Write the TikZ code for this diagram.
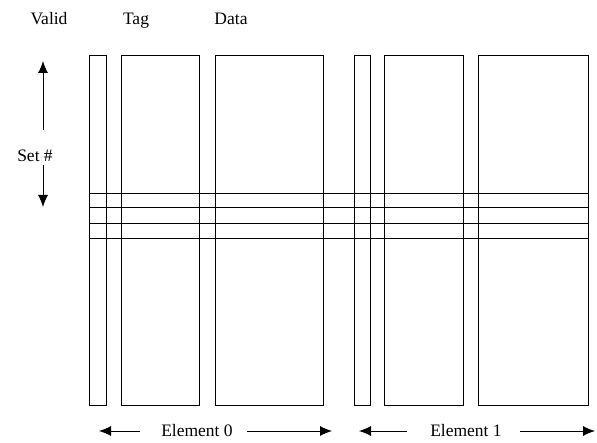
\documentclass[tikz,border=0pt]{standalone}
\usepackage{fontspec}
\setmainfont{Liberation Serif}
\usetikzlibrary{arrows.meta}
\begin{document}
\begin{tikzpicture}[x=1pt,y=-1pt,
  col/.style={draw, line width=0.9pt, inner sep=0pt, outer sep=0pt, anchor=north west, minimum height=350pt},
  row/.style={line width=0.9pt},
  lbl/.style={font=\fontsize{17.5}{19}\selectfont, inner sep=0pt, anchor=base},
  arr/.style={line width=0.9pt, -{Latex[length=12pt,width=10pt]}}]
\useasboundingbox (0,0) rectangle (597,443);
% columns
\node[col, minimum width=17pt] (v0) at (89,55) {};
\node[col, minimum width=78pt] (t0) at (121,55) {};
\node[col, minimum width=108pt] (d0) at (215,55) {};
\node[col, minimum width=16pt] (v1) at (354,55) {};
\node[col, minimum width=79pt] (t1) at (384,55) {};
\node[col, minimum width=110pt] (d1) at (478,55) {};
% set rows
\foreach \yy [count=\i] in {193,207,223,238}{
  \coordinate (rl\i) at (89,\yy);
  \coordinate (rr\i) at (588,\yy);
  \draw[row] (rl\i) -- (rr\i);
}
% headings
\node[lbl] (hv) at (49,25) {Valid};
\node[lbl] (ht) at (136,25) {Tag};
\node[lbl] (hd) at (231,25) {Data};
% set # arrows
\node[lbl] (set) at (35,162) {Set \#};
\coordinate (su0) at (43,130);
\coordinate (su1) at (43,61);
\coordinate (sd0) at (43,165);
\coordinate (sd1) at (43,207);
\draw[arr] (su0) -- (su1);
\draw[arr] (sd0) -- (sd1);
% element labels
\node[lbl] (e0) at (197,436) {Element 0};
\node[lbl] (e1) at (466,436) {Element 1};
\coordinate (e0a) at (140,431);
\coordinate (e0l) at (99,431);
\coordinate (e0b) at (247,431);
\coordinate (e0r) at (332,431);
\coordinate (e1a) at (407,431);
\coordinate (e1l) at (359,431);
\coordinate (e1b) at (520,431);
\coordinate (e1r) at (595,431);
\draw[arr] (e0a) -- (e0l);
\draw[arr] (e0b) -- (e0r);
\draw[arr] (e1a) -- (e1l);
\draw[arr] (e1b) -- (e1r);
\end{tikzpicture}
\end{document}
